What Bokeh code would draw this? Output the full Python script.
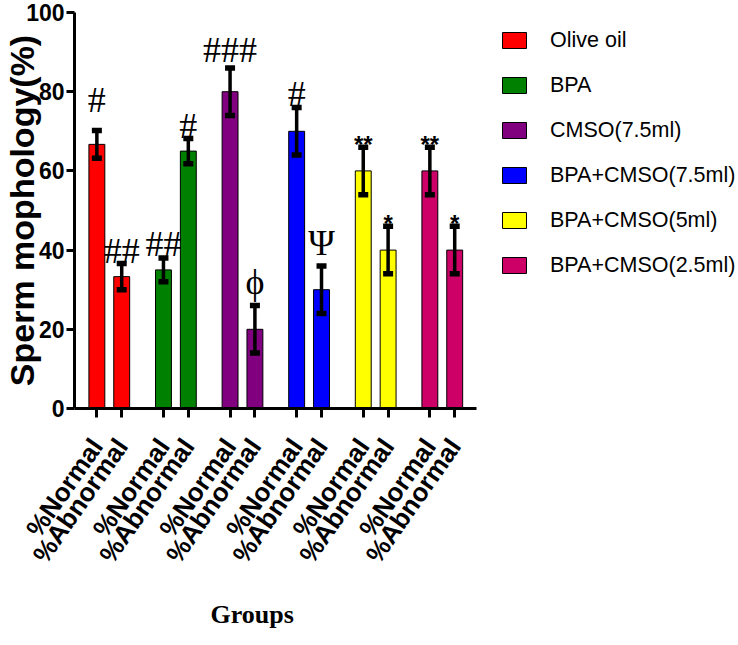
from bokeh.plotting import figure
from bokeh.models import (Range1d, FixedTicker, ColumnDataSource, Whisker, TeeHead,
                          Legend, LegendItem, Title)
from bokeh.core.properties import value
from bokeh.embed import file_html
from bokeh.resources import INLINE

# ---------------- data ----------------
groups = ["Olive oil", "BPA", "CMSO(7.5ml)", "BPA+CMSO(7.5ml)",
          "BPA+CMSO(5ml)", "BPA+CMSO(2.5ml)"]
measures = ["%Normal", "%Abnormal"]
normal_mean = [66.7, 35.0, 80.0, 70.0, 60.0, 60.0]
normal_err = [3.5, 3.0, 6.0, 6.0, 6.0, 6.0]
abnormal_mean = [33.3, 65.0, 20.0, 30.0, 40.0, 40.0]
abnormal_err = [3.3, 3.2, 6.0, 6.0, 6.0, 6.0]
normal_marks = ["#", "##", "###", "#", "**", "**"]
abnormal_marks = ["##", "#", "\u03d5", "\u03a8", "*", "*"]
y_ticks = [0, 20, 40, 60, 80, 100]
colors = ["#FF0000", "#008000", "#800080", "#0000FF", "#FFFF00", "#CC0066"]

# layout constants (pixels per unit = 1)
GROUP_STEP = 67
PAIR_STEP = 25
BAR_W = 16
# extra lift of each significance mark above its error bar (px)
normal_lift = [31, 14, 18, 14, 3, 3]
abnormal_lift = [13, 12.5, 24, 23, 3, 3]

xs, tops, errs, cols, labs, marks, lifts = [], [], [], [], [], [], []
for i, g in enumerate(groups):
    for j, (m, e, mk, lf) in enumerate([(normal_mean[i], normal_err[i], normal_marks[i], normal_lift[i]),
                                        (abnormal_mean[i], abnormal_err[i], abnormal_marks[i], abnormal_lift[i])]):
        xs.append(i * GROUP_STEP + j * PAIR_STEP)
        tops.append(m)
        errs.append(e)
        cols.append(colors[i])
        labs.append(measures[j])
        marks.append(mk)
        lifts.append(lf)

src = ColumnDataSource(dict(
    x=xs, top=tops, upper=[t + e for t, e in zip(tops, errs)],
    lower=[t - e for t, e in zip(tops, errs)], color=cols,
))

W, H = 738, 645
LEFT, TOP, BOTTOM = 70, 12, 236
frame_w = W - LEFT
frame_h = H - TOP - BOTTOM
x0 = -22.5
x_end_axis = xs[-1] + 21.5

p = figure(width=W, height=H, output_backend="svg", toolbar_location=None,
           x_range=Range1d(x0, x0 + frame_w), y_range=Range1d(0, 100),
           min_border_left=LEFT, min_border_right=0, min_border_top=TOP,
           min_border_bottom=BOTTOM)
p.outline_line_color = None
p.grid.visible = False
p.background_fill_color = "white"
p.border_fill_color = "white"

bars = p.vbar(x="x", top="top", width=BAR_W, source=src, fill_color="color",
              line_color="black", line_width=1)

wh = Whisker(source=src, base="x", upper="upper", lower="lower",
             line_color="black", line_width=3.5, level="overlay",
             upper_head=TeeHead(size=10, line_width=5.5, line_color="black"),
             lower_head=TeeHead(size=10, line_width=5.5, line_color="black"))
p.add_layout(wh)

# significance marks
serif_idx = [k for k, mk in enumerate(marks) if "*" not in mk]
star_idx = [k for k, mk in enumerate(marks) if "*" in mk]
for idx, font, size, style in [(serif_idx, "Liberation Serif", "36px", "normal"),
                               (star_idx, "Liberation Sans", "24px", "bold")]:
    s = ColumnDataSource(dict(
        x=[xs[k] for k in idx], y=[tops[k] + errs[k] for k in idx],
        text=[marks[k] for k in idx], off=[-lifts[k] for k in idx]))
    p.text(x="x", y="y", text="text", y_offset="off", source=s,
           text_align="center", text_baseline="alphabetic",
           text_font=value(font), text_font_size=value(size),
           text_font_style=value(style), text_color="black", level="overlay")

# axes
xa = p.xaxis[0]
xa.bounds = (x0, x_end_axis)
xa.ticker = FixedTicker(ticks=xs)
xa.major_label_overrides = {x: l for x, l in zip(xs, labs)}
xa.major_label_orientation = 0.96
xa.major_label_text_font = "Liberation Sans"
xa.major_label_text_font_style = "bold"
xa.major_label_text_font_size = "26px"
xa.major_label_standoff = 24
xa.minor_tick_line_color = None
xa.major_tick_out = 9
xa.major_tick_in = 0
xa.major_tick_line_width = 3
xa.axis_line_width = 3
xa.axis_line_color = "black"
xa.major_tick_line_color = "black"
xa.major_label_text_color = "black"

ya = p.yaxis[0]
ya.ticker = FixedTicker(ticks=y_ticks)
ya.minor_tick_line_color = None
ya.major_tick_out = 8
ya.major_tick_in = 0
ya.major_tick_line_width = 3
ya.axis_line_width = 3
ya.axis_line_color = "black"
ya.major_label_text_font = "Liberation Sans"
ya.major_label_text_font_style = "bold"
ya.major_label_text_font_size = "23px"
ya.major_label_standoff = 2
ya.major_label_text_color = "black"
ya.axis_label = "Sperm mophology(%)"
ya.axis_label_text_font = "Liberation Sans"
ya.axis_label_text_font_style = "bold"
ya.axis_label_text_font_size = "34px"
ya.axis_label_text_color = "black"
ya.axis_label_standoff = -18

p.add_layout(Title(text="Groups", align="left", offset=136, standoff=34,
                   vertical_align="bottom",
                   text_font="Liberation Serif", text_font_style="bold",
                   text_font_size="26px", text_color="black"), "below")

legend = Legend(items=[LegendItem(label=g, renderers=[bars], index=2 * i)
                       for i, g in enumerate(groups)],
                location=(425, frame_h - 14 - 255))
legend.glyph_width = 30
legend.glyph_height = 20
legend.label_height = 30
legend.spacing = 15
legend.label_standoff = 21
legend.padding = 0
legend.margin = 0
legend.border_line_alpha = 0
legend.background_fill_alpha = 0
legend.label_text_font = "Liberation Sans"
legend.label_text_font_size = "21.5px"
legend.label_text_color = "black"
p.add_layout(legend)

open("out.html", "w").write(file_html(p, INLINE))
